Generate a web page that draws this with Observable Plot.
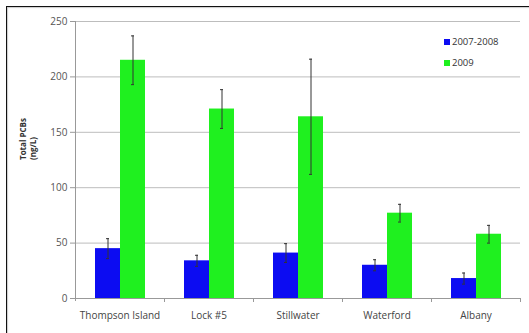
<!DOCTYPE html>
<html><head><meta charset="utf-8">
<script src="https://cdn.jsdelivr.net/npm/d3@7"></script>
<script src="https://cdn.jsdelivr.net/npm/@observablehq/plot@0.6"></script>
<style>
body{margin:0;background:#fff;}
#wrap{position:relative;width:529px;height:333px;overflow:hidden;font-family:"Open Sans",sans-serif;background:#fff;}
#border{position:absolute;left:6px;top:6px;width:560px;height:360px;border-left:1.6px solid #111;border-top:1.6px solid #111;box-shadow:1px 1px 1px #ccc inset;}
#chart{position:absolute;left:0;top:0;}
#legend{position:absolute;left:444px;top:31px;font-size:9.5px;color:#333;line-height:21px;}
#legend span.sw{display:inline-block;width:6px;height:6px;margin-right:2px;vertical-align:0px;}
</style></head><body>
<div id="wrap"><div id="border"></div><div id="chart"></div><div id="legend"></div></div>
<script>
const sites = ["Thompson Island", "Lock #5", "Stillwater", "Waterford", "Albany"];
const periods = ["2007-2008", "2009"];
const mean0708 = [45, 34, 41, 30, 18];
const err0708 = [9, 5, 8.5, 5, 5];
const mean2009 = [215, 171, 164, 77, 58];
const err2009 = [22, 17.5, 52, 8, 8];
const colors = ["#0c0cf2", "#1ff01f"];
const yTicks = [0, 50, 100, 150, 200, 250];
const yLabel = "Total PCBs\n(ng/L)";

const data = sites.flatMap((s, i) => [
  {site: s, period: periods[0], value: mean0708[i], err: err0708[i]},
  {site: s, period: periods[1], value: mean2009[i], err: err2009[i]}
]);

const plot = Plot.plot({
  width: 529, height: 333,
  marginLeft: 74, marginRight: 9, marginTop: 21, marginBottom: 35,
  style: {fontFamily: "'Open Sans', sans-serif", fontSize: "10px", background: "transparent"},
  fx: {domain: sites, padding: 0, label: null},
  x: {domain: periods, paddingInner: 0, paddingOuter: 0.715, axis: null},
  y: {domain: [0, 250], label: null},
  color: {domain: periods, range: colors},
  marks: [
    Plot.gridY(yTicks, {stroke: "#bdbdbd", strokeOpacity: 1}),
    Plot.axisY(yTicks, {tickSize: 5, tickPadding: 3, stroke: "#999", fill: "#555", label: null}),
    Plot.barY(data, {fx: "site", x: "period", y: "value", fill: "period"}),
    Plot.ruleX(data, {fx: "site", x: "period", y1: d => d.value - d.err, y2: d => d.value + d.err, stroke: "#333"}),
    Plot.tickY(data, {fx: "site", x: "period", y: d => d.value + d.err, stroke: "#333", insetLeft: 11, insetRight: 11}),
    Plot.tickY(data, {fx: "site", x: "period", y: d => d.value - d.err, stroke: "#333", insetLeft: 11, insetRight: 11}),
    Plot.ruleY([0], {stroke: "#999"}),
    Plot.axisFx({anchor: "bottom", tickSize: 0, tickPadding: 13, label: null, fill: "#444"}),
    Plot.text([sites[0]], {fx: d => d, text: () => yLabel, frameAnchor: "left", rotate: -90, dx: -48, fontWeight: "bold", fontSize: 8, fill: "#333", lineHeight: 1.3})
  ]
});

// axis line and category boundary ticks via the plot's own scales
const fx = plot.scale("fx"), y = plot.scale("y");
const svg = d3.select(plot);
const g = svg.append("g").attr("stroke", "#999").attr("stroke-width", 1);
const left = fx.apply(sites[0]);
g.append("line").attr("x1", left + 0.5).attr("x2", left + 0.5)
  .attr("y1", y.apply(250)).attr("y2", y.apply(0) + 3);
const edges = sites.map(s => fx.apply(s) + fx.bandwidth);
edges.forEach(xe => g.append("line").attr("x1", Math.round(xe) + 0.5).attr("x2", Math.round(xe) + 0.5)
  .attr("y1", y.apply(0)).attr("y2", y.apply(0) + 4));

document.getElementById("chart").appendChild(plot);

const leg = document.getElementById("legend");
periods.forEach((p, i) => {
  const row = document.createElement("div");
  row.innerHTML = `<span class="sw" style="background:${colors[i]}"></span>${p}`;
  leg.appendChild(row);
});
</script>
</body></html>
